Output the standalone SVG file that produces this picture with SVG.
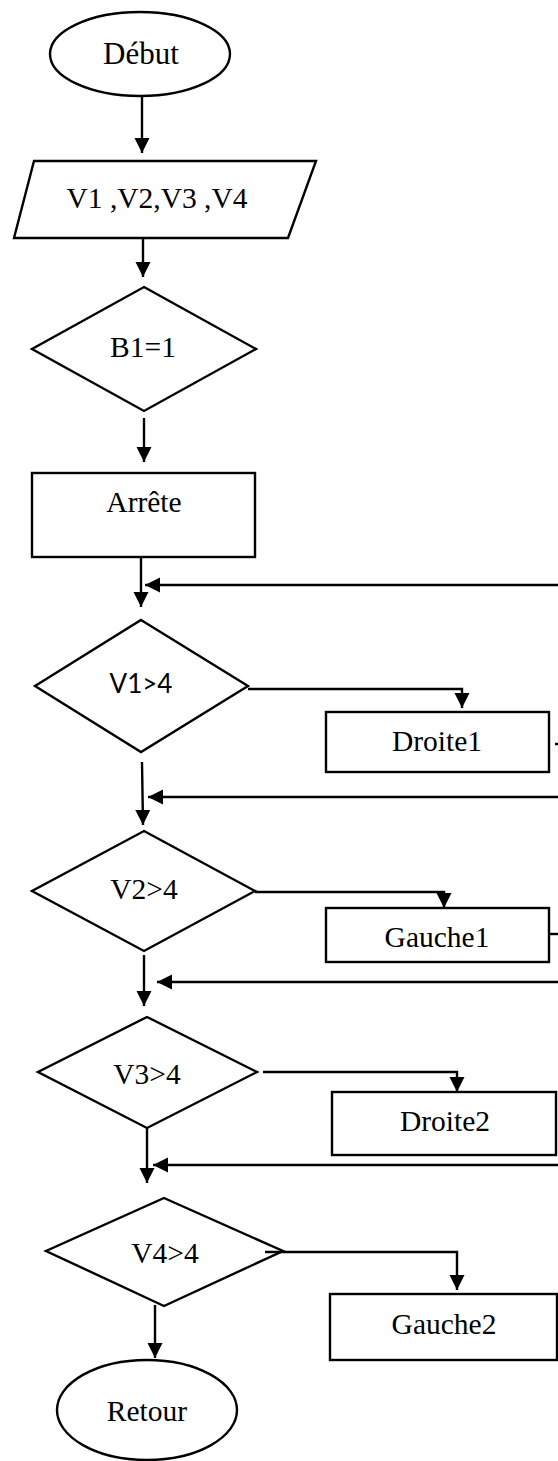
<svg xmlns="http://www.w3.org/2000/svg" width="558" height="1461" viewBox="0 0 558 1461">
<style>
.s{fill:#fff;stroke:#000;stroke-width:2.4}
.t{font-family:"Liberation Serif","Times New Roman",serif;font-size:29.5px;fill:#000;text-anchor:middle}
.c{font-family:Lato,"Liberation Sans",sans-serif;font-size:26px;fill:#000;text-anchor:middle}
.l{fill:none;stroke:#000;stroke-width:2.4}
</style>
<defs>
<marker id="a" viewBox="0 0 10 10" refX="10" refY="5" markerWidth="15" markerHeight="16" markerUnits="userSpaceOnUse" orient="auto"><path d="M0,0L10,5L0,10z" fill="#000"/></marker>
</defs>
<rect width="558" height="1461" fill="#fff"/>
<g id="debut"><ellipse class="s" cx="140" cy="54" rx="90" ry="42"/><text class="t" x="141" y="64" style="font-size:31px">Début</text></g>
<g id="input"><polygon class="s" points="34,161 316,161 288,238 14,238"/><text class="t" x="157" y="208">V1 ,V2,V3 ,V4</text></g>
<g id="b1"><polygon class="s" points="144,287 256,349 144,411 32,349"/><text class="t" x="143" y="357">B1=1</text></g>
<g id="arrete"><rect class="s" x="32" y="473" width="223" height="84"/><text class="t" x="144" y="512">Arrête</text></g>
<g id="v1"><polygon class="s" points="141,620 248,686 141,752 35,686"/><text class="c" x="141" y="693">V1&gt;4</text></g>
<g id="droite1"><rect class="s" x="326" y="712" width="223" height="60"/><text class="t" x="437" y="751">Droite1</text></g>
<g id="v2"><polygon class="s" points="144,831 255,891 144,951 32,891"/><text class="t" x="144" y="899">V2&gt;4</text></g>
<g id="gauche1"><rect class="s" x="326" y="908" width="223" height="54"/><text class="t" x="437" y="947">Gauche1</text></g>
<g id="v3"><polygon class="s" points="147,1017 257,1072 147,1128 38,1072"/><text class="t" x="147" y="1084">V3&gt;4</text></g>
<g id="droite2"><rect class="s" x="332" y="1092" width="224" height="63"/><text class="t" x="445" y="1131">Droite2</text></g>
<g id="v4"><polygon class="s" points="164,1198 283,1251 164,1306 46,1251"/><text class="t" x="165" y="1263">V4&gt;4</text></g>
<g id="gauche2"><rect class="s" x="330" y="1294" width="227" height="66"/><text class="t" x="444" y="1334">Gauche2</text></g>
<g id="retour"><ellipse class="s" cx="147" cy="1410" rx="90" ry="50"/><text class="t" x="147" y="1421">Retour</text></g>
<g id="connectors">
<path class="l" d="M142,97V153" marker-end="url(#a)"/>
<path class="l" d="M143,238V277" marker-end="url(#a)"/>
<path class="l" d="M144,418V462" marker-end="url(#a)"/>
<path class="l" d="M141,557V607" marker-end="url(#a)"/>
<path class="l" d="M558,585H145" marker-end="url(#a)"/>
<path class="l" d="M248,689H462V708" marker-end="url(#a)"/>
<path class="l" d="M555,744H558"/>
<path class="l" d="M142,762L143,825" marker-end="url(#a)"/>
<path class="l" d="M558,797H148" marker-end="url(#a)"/>
<path class="l" d="M255,892H444V908" marker-end="url(#a)"/>
<path class="l" d="M549,934H558"/>
<path class="l" d="M558,982H157" marker-end="url(#a)"/>
<path class="l" d="M144,955V1006" marker-end="url(#a)"/>
<path class="l" d="M263,1072H457V1092" marker-end="url(#a)"/>
<path class="l" d="M558,1165H153" marker-end="url(#a)"/>
<path class="l" d="M147,1128V1183" marker-end="url(#a)"/>
<path class="l" d="M265,1252H457V1290" marker-end="url(#a)"/>
<path class="l" d="M155,1305V1358" marker-end="url(#a)"/>
</g>
</svg>
